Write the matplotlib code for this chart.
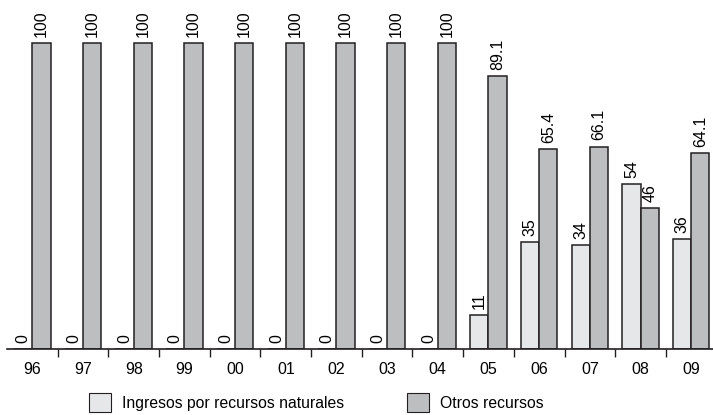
import numpy as np
import matplotlib.pyplot as plt
from matplotlib.patches import Patch

plt.rcParams['font.family'] = ['Liberation Sans', 'DejaVu Sans']

years = ['96', '97', '98', '99', '00', '01', '02', '03', '04', '05', '06', '07', '08', '09']
naturales = [0, 0, 0, 0, 0, 0, 0, 0, 0, 11, 35, 34, 54, 36]
otros = [100, 100, 100, 100, 100, 100, 100, 100, 100, 89.1, 65.4, 66.1, 46, 64.1]
naturales_lbl = ['0', '0', '0', '0', '0', '0', '0', '0', '0', '11', '35', '34', '54', '36']
otros_lbl = ['100', '100', '100', '100', '100', '100', '100', '100', '100', '89.1', '65.4', '66.1', '46', '64.1']

light = '#e6e7e8'
dark = '#bcbec0'
edge = '#231f20'

fig = plt.figure(figsize=(7.13, 4.15), dpi=100)
ax = fig.add_axes([7 / 713, 66 / 415, 706 / 713, 349 / 415])

x = np.arange(len(years))
w = 0.36
b1 = ax.bar(x - w / 2, naturales, w, color=light, edgecolor=edge, linewidth=1.1)
b2 = ax.bar(x + w / 2, otros, w, color=dark, edgecolor=edge, linewidth=1.1)

for rects, labels in ((b1, naturales_lbl), (b2, otros_lbl)):
    for r, t in zip(rects, labels):
        ax.annotate(t, (r.get_x() + r.get_width() / 2, r.get_height()),
                    xytext=(0, 4.5), textcoords='offset points',
                    rotation=90, ha='center', va='bottom', fontsize=11.5)

ax.set_xlim(-0.5, 13.43)
ax.set_ylim(0, 114.05)

for s in ['top', 'right', 'left']:
    ax.spines[s].set_visible(False)
ax.spines['bottom'].set_linewidth(1.2)
ax.spines['bottom'].set_color(edge)
ax.set_yticks([])

# tick marks between categories, labels at the centres
ax.set_xticks(x[:-1] + 0.5)
ax.set_xticklabels([])
ax.tick_params(axis='x', which='major', length=6, width=1, color=edge, direction='out')
ax.set_xticks(x, minor=True)
ax.set_xticklabels(years, minor=True, fontsize=11.5)
ax.tick_params(axis='x', which='minor', length=0, pad=9)

handles = [Patch(facecolor=light, edgecolor=edge, linewidth=0.8),
           Patch(facecolor=dark, edgecolor=edge, linewidth=0.8)]
fig.legend(handles, ['Ingresos por recursos naturales', 'Otros recursos'],
           loc='lower center', bbox_to_anchor=(316 / 713, -6 / 415), ncol=2,
           frameon=False, fontsize=11.3, handlelength=1.4, handleheight=1.4,
           handletextpad=0.7, columnspacing=4.0, borderpad=0.1)

fig.savefig('out.png', dpi=100)
